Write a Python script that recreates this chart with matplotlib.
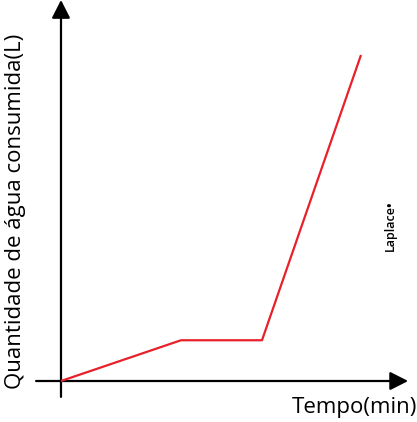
import matplotlib.pyplot as plt
from matplotlib.patches import FancyArrowPatch

# data (tempo em min, agua em L) - leitura aproximada
tempo = [0, 4, 6.7, 10]
agua = [0, 1, 1, 8]

x_label = "Tempo(min)"
y_label = "Quantidade de água consumida(L)"
marca = "Laplace•"

plt.rcParams['font.family'] = ['Open Sans', 'DejaVu Sans']

fig = plt.figure(figsize=(4.17, 4.22), dpi=100)
ax = fig.add_axes([0, 0, 1, 1])
ax.set_xlim(-2.033, 11.867)
ax.set_ylim(-1.006, 9.35)
ax.axis('off')

# eixos com setas
for start, end in [((-0.83, 0), (11.57, 0)), ((0, -0.39), (0, 9.35))]:
    arr = FancyArrowPatch(start, end, arrowstyle='-|>,head_length=0.55,head_width=0.28',
                          mutation_scale=20, lw=1.6, color='black',
                          shrinkA=0, shrinkB=0)
    ax.add_patch(arr)

ax.plot(tempo, agua, color='#e8202a', lw=1.6, solid_capstyle='butt')

ax.text(11.87, -0.40, x_label, ha='right', va='top', fontsize=16)
ax.text(-1.52, 4.17, y_label, ha='center', va='center', rotation=90, fontsize=16)
ax.text(10.97, 3.8, marca, ha='center', va='center', rotation=90, fontsize=9,
        fontweight='semibold')

fig.savefig('out.png', dpi=100)
